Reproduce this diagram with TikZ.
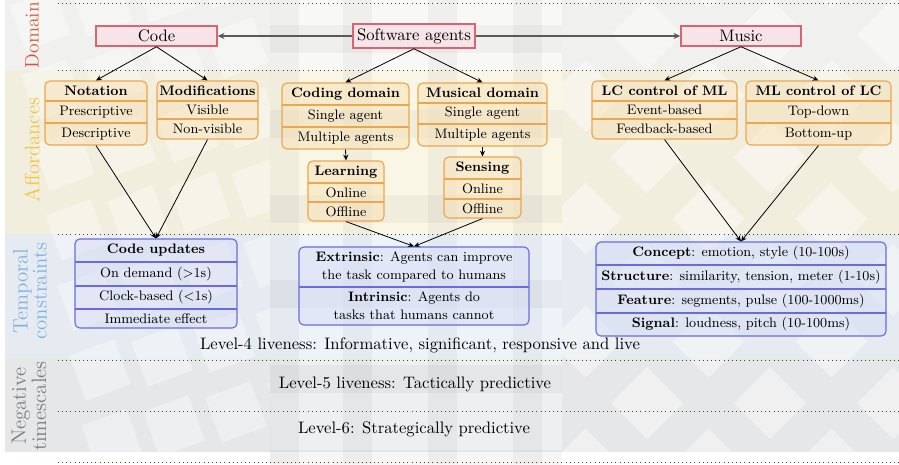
\documentclass[tikz,border=0pt]{standalone}
\usetikzlibrary{fit,arrows.meta}
\definecolor{domc}{HTML}{D05A3E}
\definecolor{affc}{HTML}{F0C545}
\definecolor{tempc}{HTML}{7FB1E3}
\definecolor{negc}{HTML}{7A7F85}
\definecolor{redb}{HTML}{DA6470}
\definecolor{redf}{HTML}{F6E4E8}
\definecolor{orb}{HTML}{EBA650}
\definecolor{orf}{HTML}{F7E2B8}
\definecolor{blb}{HTML}{6A6AE4}
\definecolor{blf}{HTML}{DADFF6}
\definecolor{bandA}{HTML}{FAF6E6}
\definecolor{bandT}{HTML}{EEF3F9}
\definecolor{bandN}{HTML}{EEEFF0}
\definecolor{bandD}{HTML}{F8F8F7}
\tikzset{
  dombox/.style={draw=redb, fill=redf, line width=0.9pt, inner sep=0pt, font={\fontsize{10.4}{12}\selectfont}},
  orbox/.style={draw=orb, fill=orf, fill opacity=0.55, text opacity=1, line width=0.7pt, rounded corners=3pt, inner sep=0pt},
  blbox/.style={draw=blb, fill=blf, fill opacity=0.6, text opacity=1, line width=0.7pt, rounded corners=3pt, inner sep=0pt},
  osep/.style={draw=orb, line width=0.7pt},
  bsep/.style={draw=blb, line width=0.7pt},
  rowtext/.style={font={\fontsize{8.6}{11.2}\selectfont}, inner sep=1pt},
  lvltext/.style={font={\fontsize{10.4}{13}\selectfont}, inner sep=1pt},
  sidelbl/.style={rotate=90, align=center, font={\fontsize{13}{10.8}\selectfont}, inner sep=1pt},
  sep line/.style={dotted, black!75, line width=0.6pt},
  arr/.style={-{Stealth[length=3.6pt,width=3.2pt]}, black, line width=0.5pt},
  harr/.style={-{Stealth[length=4.2pt,width=3.8pt]}, black!65, line width=1.1pt},
}
\newcommand\mkbox[6]{\node[#6, fit={(#2,#3)(#4,#5)}] (#1) {};}
\begin{document}
\begin{tikzpicture}[x=0.625pt,y=-0.625pt]
\useasboundingbox (0,0) rectangle (899,464);
\fill[white] (0,0) rectangle (899,464);
% bands
\fill[bandD] (5,0) rectangle (899,70);
\fill[bandA] (5,70) rectangle (899,234);
\fill[bandT] (5,234) rectangle (899,358);
\fill[bandN] (5,358) rectangle (899,452);
% left column pattern
\begin{scope}
\clip (5,0) rectangle (270,452);
\fill[black,opacity=0.03] (5,0) rectangle (270,452);
\foreach \i in {0,...,4}{\foreach \j in {0,...,6}{
  \fill[white,opacity=0.35,shift={(40+\i*62+\j*12,20+\j*70-\i*14)},rotate=20] (-24,-24) rectangle (24,24);
}}
\end{scope}
% middle column grid
\begin{scope}
\clip (270,0) rectangle (562,464);
\foreach \x in {270,343,428,513}{\fill[black,opacity=0.035] (\x,0) rectangle (\x+29,464);}
\foreach \y in {25,110,195,280,365,450}{\fill[black,opacity=0.035] (270,\y) rectangle (562,\y+28);}
\end{scope}
% right column diamonds
\begin{scope}
\clip (562,0) rectangle (899,452);
\fill[black,opacity=0.03] (562,0) rectangle (899,452);
\foreach \i in {-1,...,3}{\foreach \j in {-1,...,4}{
  \fill[white,opacity=0.4,shift={(647+\i*123,403-\j*123)}] (0,-36) -- (36,0) -- (0,36) -- (-36,0) -- cycle;
  \fill[white,opacity=0.4,shift={(708.5+\i*123,341.5-\j*123)}] (0,-36) -- (36,0) -- (0,36) -- (-36,0) -- cycle;
}}
\end{scope}
% dotted separators
\foreach \y in {3,70,234,360,411,462}{\draw[sep line] (58,\y) -- (899,\y);}
% side labels
\node[sidelbl, text=domc, font={\fontsize{12.3}{11}\selectfont}] (ldomain) at (32,35) {Domain};
\node[sidelbl, text=affc] (lafford) at (32,150) {Affordances};
\node[sidelbl, text=tempc] (ltemp) at (30,291) {Temporal\\constraints};
\node[sidelbl, text=negc] (lneg) at (29,406) {Negative\\timescales};
% domain boxes
\node[dombox, minimum width=121*0.625pt, minimum height=20*0.625pt] (code) at (156.5,36) {Code};
\node[dombox, minimum width=122*0.625pt, minimum height=24*0.625pt] (agents) at (414,36) {Software agents};
\node[dombox, minimum width=120*0.625pt, minimum height=20*0.625pt] (music) at (741,36) {Music};
\draw[harr] (agents.west) -- (code.east);
\draw[harr] (agents.east) -- (music.west);
% affordance boxes
\mkbox{notation}{45}{81}{147}{145}{orbox}
\draw[osep] (45,101) -- (147,101); \draw[osep] (45,123) -- (147,123);
\node[rowtext] (n1) at (96,91) {\textbf{Notation}};
\node[rowtext] (n2) at (96,112) {Prescriptive};
\node[rowtext] (n3) at (96,134) {Descriptive};
\mkbox{modif}{157}{81}{258}{139}{orbox}
\draw[osep] (157,101) -- (258,101); \draw[osep] (157,119) -- (258,119);
\node[rowtext] (m1) at (207.5,91) {\textbf{Modifications}};
\node[rowtext] (m2) at (207.5,110) {Visible};
\node[rowtext] (m3) at (207.5,129) {Non-visible};
\mkbox{coding}{282}{83}{409}{149}{orbox}
\draw[osep] (282,105) -- (409,105); \draw[osep] (282,127) -- (409,127);
\node[rowtext] (c1) at (345.5,94) {\textbf{Coding domain}};
\node[rowtext] (c2) at (345.5,116) {Single agent};
\node[rowtext] (c3) at (345.5,138) {Multiple agents};
\mkbox{musical}{418}{83}{547}{146}{orbox}
\draw[osep] (418,103) -- (547,103); \draw[osep] (418,124) -- (547,124);
\node[rowtext] (d1) at (482.5,93) {\textbf{Musical domain}};
\node[rowtext] (d2) at (482.5,113.5) {Single agent};
\node[rowtext] (d3) at (482.5,135) {Multiple agents};
\mkbox{learning}{308}{161}{384}{221}{orbox}
\draw[osep] (308,183) -- (384,183); \draw[osep] (308,202) -- (384,202);
\node[rowtext] (l1) at (346,172) {\textbf{Learning}};
\node[rowtext] (l2) at (346,192.5) {Online};
\node[rowtext] (l3) at (346,211.5) {Offline};
\mkbox{sensing}{444}{157}{521}{218}{orbox}
\draw[osep] (444,179) -- (521,179); \draw[osep] (444,199) -- (521,199);
\node[rowtext] (s1) at (482.5,168) {\textbf{Sensing}};
\node[rowtext] (s2) at (482.5,189) {Online};
\node[rowtext] (s3) at (482.5,208.5) {Offline};
\mkbox{lcml}{592}{81}{737}{139}{orbox}
\draw[osep] (592,101) -- (737,101); \draw[osep] (592,119) -- (737,119);
\node[rowtext] (a1) at (664.5,91) {\textbf{LC control of ML}};
\node[rowtext] (a2) at (664.5,110) {Event-based};
\node[rowtext] (a3) at (664.5,129) {Feedback-based};
\mkbox{mllc}{746}{81}{891}{145}{orbox}
\draw[osep] (746,101) -- (891,101); \draw[osep] (746,123) -- (891,123);
\node[rowtext] (b1) at (818.5,91) {\textbf{ML control of LC}};
\node[rowtext] (b2) at (818.5,112) {Top-down};
\node[rowtext] (b3) at (818.5,134) {Bottom-up};
% temporal boxes
\mkbox{updates}{75}{239}{237}{328}{blbox}
\draw[bsep] (75,262) -- (237,262); \draw[bsep] (75,286) -- (237,286); \draw[bsep] (75,309) -- (237,309);
\node[rowtext] (u1) at (156,250.5) {\textbf{Code updates}};
\node[rowtext] (u2) at (156,274) {On demand (>1s)};
\node[rowtext] (u3) at (156,297.5) {Clock-based (<1s)};
\node[rowtext] (u4) at (156,318.5) {Immediate effect};
\mkbox{extr}{299}{247}{529}{325}{blbox}
\draw[bsep] (299,287) -- (529,287);
\node[rowtext, align=center] (e1) at (414,267) {\textbf{Extrinsic}: Agents can improve\\the task compared to humans};
\node[rowtext, align=center] (e2) at (414,306) {\textbf{Intrinsic}: Agents do\\tasks that humans cannot};
\mkbox{concept}{596}{242}{886}{336}{blbox}
\draw[bsep] (596,265) -- (886,265); \draw[bsep] (596,289) -- (886,289); \draw[bsep] (596,313) -- (886,313);
\node[rowtext] (k1) at (741,253.5) {\textbf{Concept}: emotion, style (10-100s)};
\node[rowtext] (k2) at (741,277) {\textbf{Structure}: similarity, tension, meter (1-10s)};
\node[rowtext] (k3) at (741,301) {\textbf{Feature}: segments, pulse (100-1000ms)};
\node[rowtext] (k4) at (741,324.5) {\textbf{Signal}: loudness, pitch (10-100ms)};
% level texts
\node[lvltext] (lvl4) at (420,345) {Level-4 liveness: Informative, significant, responsive and live};
\node[lvltext] (lvl5) at (415,384) {Level-5 liveness: Tactically predictive};
\node[lvltext] (lvl6) at (414,429) {Level-6: Strategically predictive};
% arrows
\draw[arr] (code.south) -- (notation.north);
\draw[arr] (code.south) -- (modif.north);
\draw[arr] (agents.south) -- (coding.north);
\draw[arr] (agents.south) -- (musical.north);
\draw[arr] (music.south) -- (lcml.north);
\draw[arr] (music.south) -- (mllc.north);
\draw[arr] (coding.south) -- (learning.north);
\draw[arr] (musical.south) -- (sensing.north);
\draw[arr] (notation.south) -- (updates.north);
\draw[arr] (modif.south) -- (updates.north);
\draw[arr] (learning.south) -- (extr.north);
\draw[arr] (sensing.south) -- (extr.north);
\draw[arr] (lcml.south) -- (concept.north);
\draw[arr] (mllc.south) -- (concept.north);
\end{tikzpicture}
\end{document}
